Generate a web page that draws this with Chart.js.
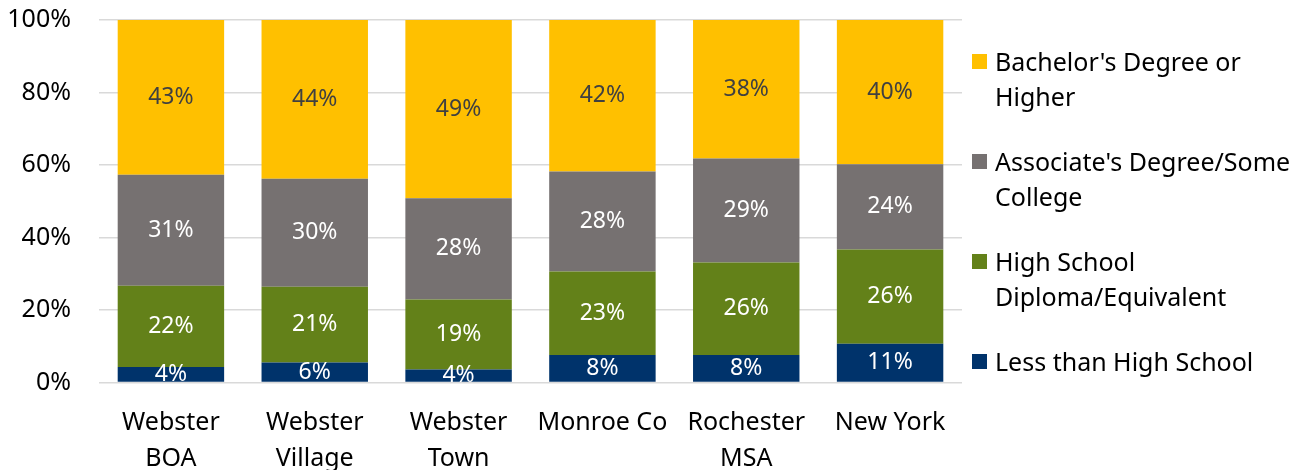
<!DOCTYPE html>
<html>
<head>
<meta charset="utf-8">
<script src="https://cdn.jsdelivr.net/npm/chart.js@4"></script>
<style>
  html, body { margin: 0; padding: 0; background: #fff; }
  #wrap { position: relative; width: 1305px; height: 470px; }
  #legend { position: absolute; left: 972px; top: 0; font-family: "Noto Sans", sans-serif; font-size: 25px; line-height: 35px; color: #000; }
  .item { position: absolute; left: 0; width: 330px; }
  .box { position: absolute; left: 0; top: 10px; width: 15px; height: 15px; }
  .txt { position: absolute; left: 23px; top: 0; white-space: nowrap; }
</style>
</head>
<body>
<div id="wrap">
  <canvas id="chart" width="1305" height="470"></canvas>
  <div id="legend"></div>
</div>
<script>
// Categories (x axis)
const categories = [
    ["Webster", "BOA"],
    ["Webster", "Village"],
    ["Webster", "Town"],
    "Monroe Co",
    ["Rochester", "MSA"],
    "New York"
];

// Series values (% of population 25+)
const lessThanHS   = [4.3, 5.5, 3.6, 7.6, 7.6, 10.7];
const highSchool   = [22.4, 20.9, 19.3, 23.0, 25.5, 26.0];
const associates   = [30.6, 29.8, 27.9, 27.6, 28.7, 23.5];
const bachelors    = [42.7, 43.8, 49.2, 41.8, 38.2, 39.8];

const yTicks = [0, 20, 40, 60, 80, 100];

const seriesNames = ["Less than High School", "High School Diploma/Equivalent", "Associate's Degree/Some College", "Bachelor's Degree or Higher"];
const legendLines = [["Less than High School"], ["High School", "Diploma/Equivalent"], ["Associate's Degree/Some", "College"], ["Bachelor's Degree or", "Higher"]];
const colors = ["#00336B", "#638119", "#767171", "#FFC000"];
const labelColors = ["#ffffff", "#ffffff", "#ffffff", "#404040"];

const FONT = "'Noto Sans', sans-serif";

// Draw value labels in the middle of each segment
const segmentLabels = {
    id: "segmentLabels",
    afterDatasetsDraw(chart) {
        const ctx = chart.ctx;
        const area = chart.chartArea;
        ctx.save();
        ctx.beginPath();
        ctx.rect(area.left, area.top, area.right - area.left, area.bottom - area.top);
        ctx.clip();
        ctx.font = "23px " + FONT;
        ctx.textAlign = "center";
        ctx.textBaseline = "middle";
        chart.data.datasets.forEach((ds, i) => {
            const meta = chart.getDatasetMeta(i);
            meta.data.forEach((bar, j) => {
                const mid = (bar.y + bar.base) / 2;
                ctx.fillStyle = labelColors[i];
                ctx.fillText(Math.round(ds.data[j]) + "%", bar.x, mid);
            });
        });
        ctx.restore();
    }
};

const allSeries = [lessThanHS, highSchool, associates, bachelors];

new Chart(document.getElementById("chart"), {
    type: "bar",
    data: {
        labels: categories,
        datasets: allSeries.map((values, i) => ({
            label: seriesNames[i],
            data: values,
            backgroundColor: colors[i],
            borderWidth: 0,
            categoryPercentage: 1,
            barPercentage: 0.74
        }))
    },
    options: {
        responsive: false,
        animation: false,
        events: [],
        layout: { padding: { top: 20, right: 343, left: 0, bottom: 0 } },
        plugins: {
            legend: { display: false },
            tooltip: { enabled: false }
        },
        scales: {
            x: {
                stacked: true,
                grid: { display: false },
                border: { display: false },
                ticks: {
                    color: "#000",
                    padding: 14,
                    font: { family: FONT, size: 25, lineHeight: "36px" }
                },
                afterFit: s => {
                    s.height = 87.5;
                    s.paddingTop = 0;
                    s.paddingBottom = 0;
                }
            },
            y: {
                stacked: true,
                min: 0,
                max: 100,
                afterBuildTicks: s => { s.ticks = yTicks.map(v => ({ value: v })); },
                grid: { color: "#d9d9d9", lineWidth: 1.5, drawTicks: false },
                border: { display: false },
                ticks: {
                    color: "#000",
                    padding: 28,
                    font: { family: FONT, size: 25 },
                    callback: v => v + "%"
                },
                afterFit: s => {
                    s.width = 99;
                    s.paddingTop = 0;
                    s.paddingBottom = 0;
                }
            }
        }
    },
    plugins: [segmentLabels]
});

// Legend on the right, top item = last series
const legend = document.getElementById("legend");
const legendTops = [344, 244, 144, 44];
for (let i = allSeries.length - 1; i >= 0; i--) {
    const item = document.createElement("div");
    item.className = "item";
    item.style.top = legendTops[i] + "px";
    const box = document.createElement("div");
    box.className = "box";
    box.style.background = colors[i];
    const txt = document.createElement("div");
    txt.className = "txt";
    txt.innerHTML = legendLines[i].join("<br>");
    item.appendChild(box);
    item.appendChild(txt);
    legend.appendChild(item);
}
</script>
</body>
</html>
